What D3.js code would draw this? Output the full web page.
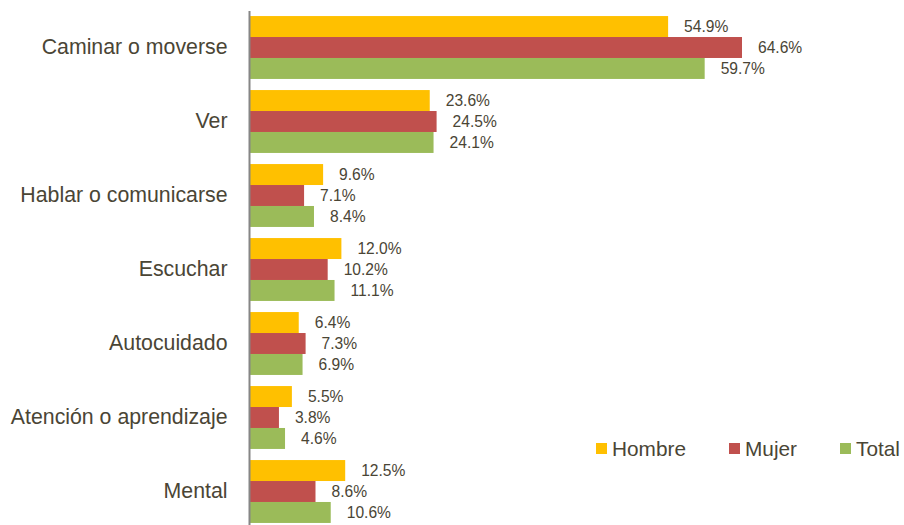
<!DOCTYPE html>
<html>
<head>
<meta charset="utf-8">
<script src="https://cdn.jsdelivr.net/npm/d3@7"></script>
<style>
  body { margin: 0; background: #fff; }
  text { font-family: Arial, "Liberation Sans", sans-serif; }
</style>
</head>
<body>
<svg width="904" height="525"></svg>
<script>
// Categories and series values (percent)
const categories = ["Caminar o moverse", "Ver", "Hablar o comunicarse", "Escuchar",
  "Autocuidado", "Atención o aprendizaje", "Mental"];
const series = ["Hombre", "Mujer", "Total"];
const hombre = [54.9, 23.6, 9.6, 12.0, 6.4, 5.5, 12.5];
const mujer  = [64.6, 24.5, 7.1, 10.2, 7.3, 3.8, 8.6];
const total  = [59.7, 24.1, 8.4, 11.1, 6.9, 4.6, 10.6];
const colors = ["#FFC000", "#C0504D", "#9BBB59"];

const values = [hombre, mujer, total];
const textColor = "#4a4535";

const svg = d3.select("svg");

// Scales
const x = d3.scaleLinear().domain([0, 70]).range([250, 250 + 70 * 7.616]);

const y0 = d3.scaleBand()
    .domain(categories)
    .range([10.5, 10.5 + 7 * 74])
    .paddingInner(0.15)
    .paddingOuter(0.075);

const y1 = d3.scaleBand()
    .domain(series)
    .range([0, y0.bandwidth()]);

// Bars
const groups = svg.append("g")
  .selectAll("g")
  .data(categories)
  .enter().append("g")
    .attr("transform", d => `translate(0,${y0(d)})`);

groups.selectAll("rect")
  .data((c, i) => series.map((s, j) => ({series: s, value: values[j][i], color: colors[j]})))
  .enter().append("rect")
    .attr("x", x(0))
    .attr("y", d => y1(d.series))
    .attr("width", d => x(d.value) - x(0))
    .attr("height", y1.bandwidth())
    .attr("fill", d => d.color);

// Value labels
groups.selectAll("text")
  .data((c, i) => series.map((s, j) => ({series: s, value: values[j][i]})))
  .enter().append("text")
    .attr("x", d => x(d.value) + 16)
    .attr("y", d => y1(d.series) + y1.bandwidth() / 2)
    .attr("dy", "0.35em")
    .attr("font-size", "15.6px")
    .attr("fill", textColor)
    .text(d => d.value.toFixed(1) + "%");

// Category axis
const axis = svg.append("g")
    .attr("transform", `translate(${x(0) - 0.5},0)`)
    .call(d3.axisLeft(y0).tickSize(0).tickPadding(22));

axis.select(".domain")
    .attr("d", "M0,11V525")
    .attr("stroke", "#868686")
    .attr("stroke-width", 2);

axis.selectAll("text")
    .attr("font-size", "21.3px")
    .attr("font-family", "Arial, 'Liberation Sans', sans-serif")
    .attr("fill", textColor);

// Legend
const legendX = [596, 729, 840];
const legend = svg.append("g")
  .selectAll("g")
  .data(series)
  .enter().append("g")
    .attr("transform", (d, i) => `translate(${legendX[i]},443)`);

legend.append("rect")
    .attr("width", 11)
    .attr("height", 11)
    .attr("fill", (d, i) => colors[i]);

legend.append("text")
    .attr("x", 16)
    .attr("y", 13)
    .attr("font-size", "20.8px")
    .attr("fill", textColor)
    .text(d => d);
</script>
</body>
</html>
